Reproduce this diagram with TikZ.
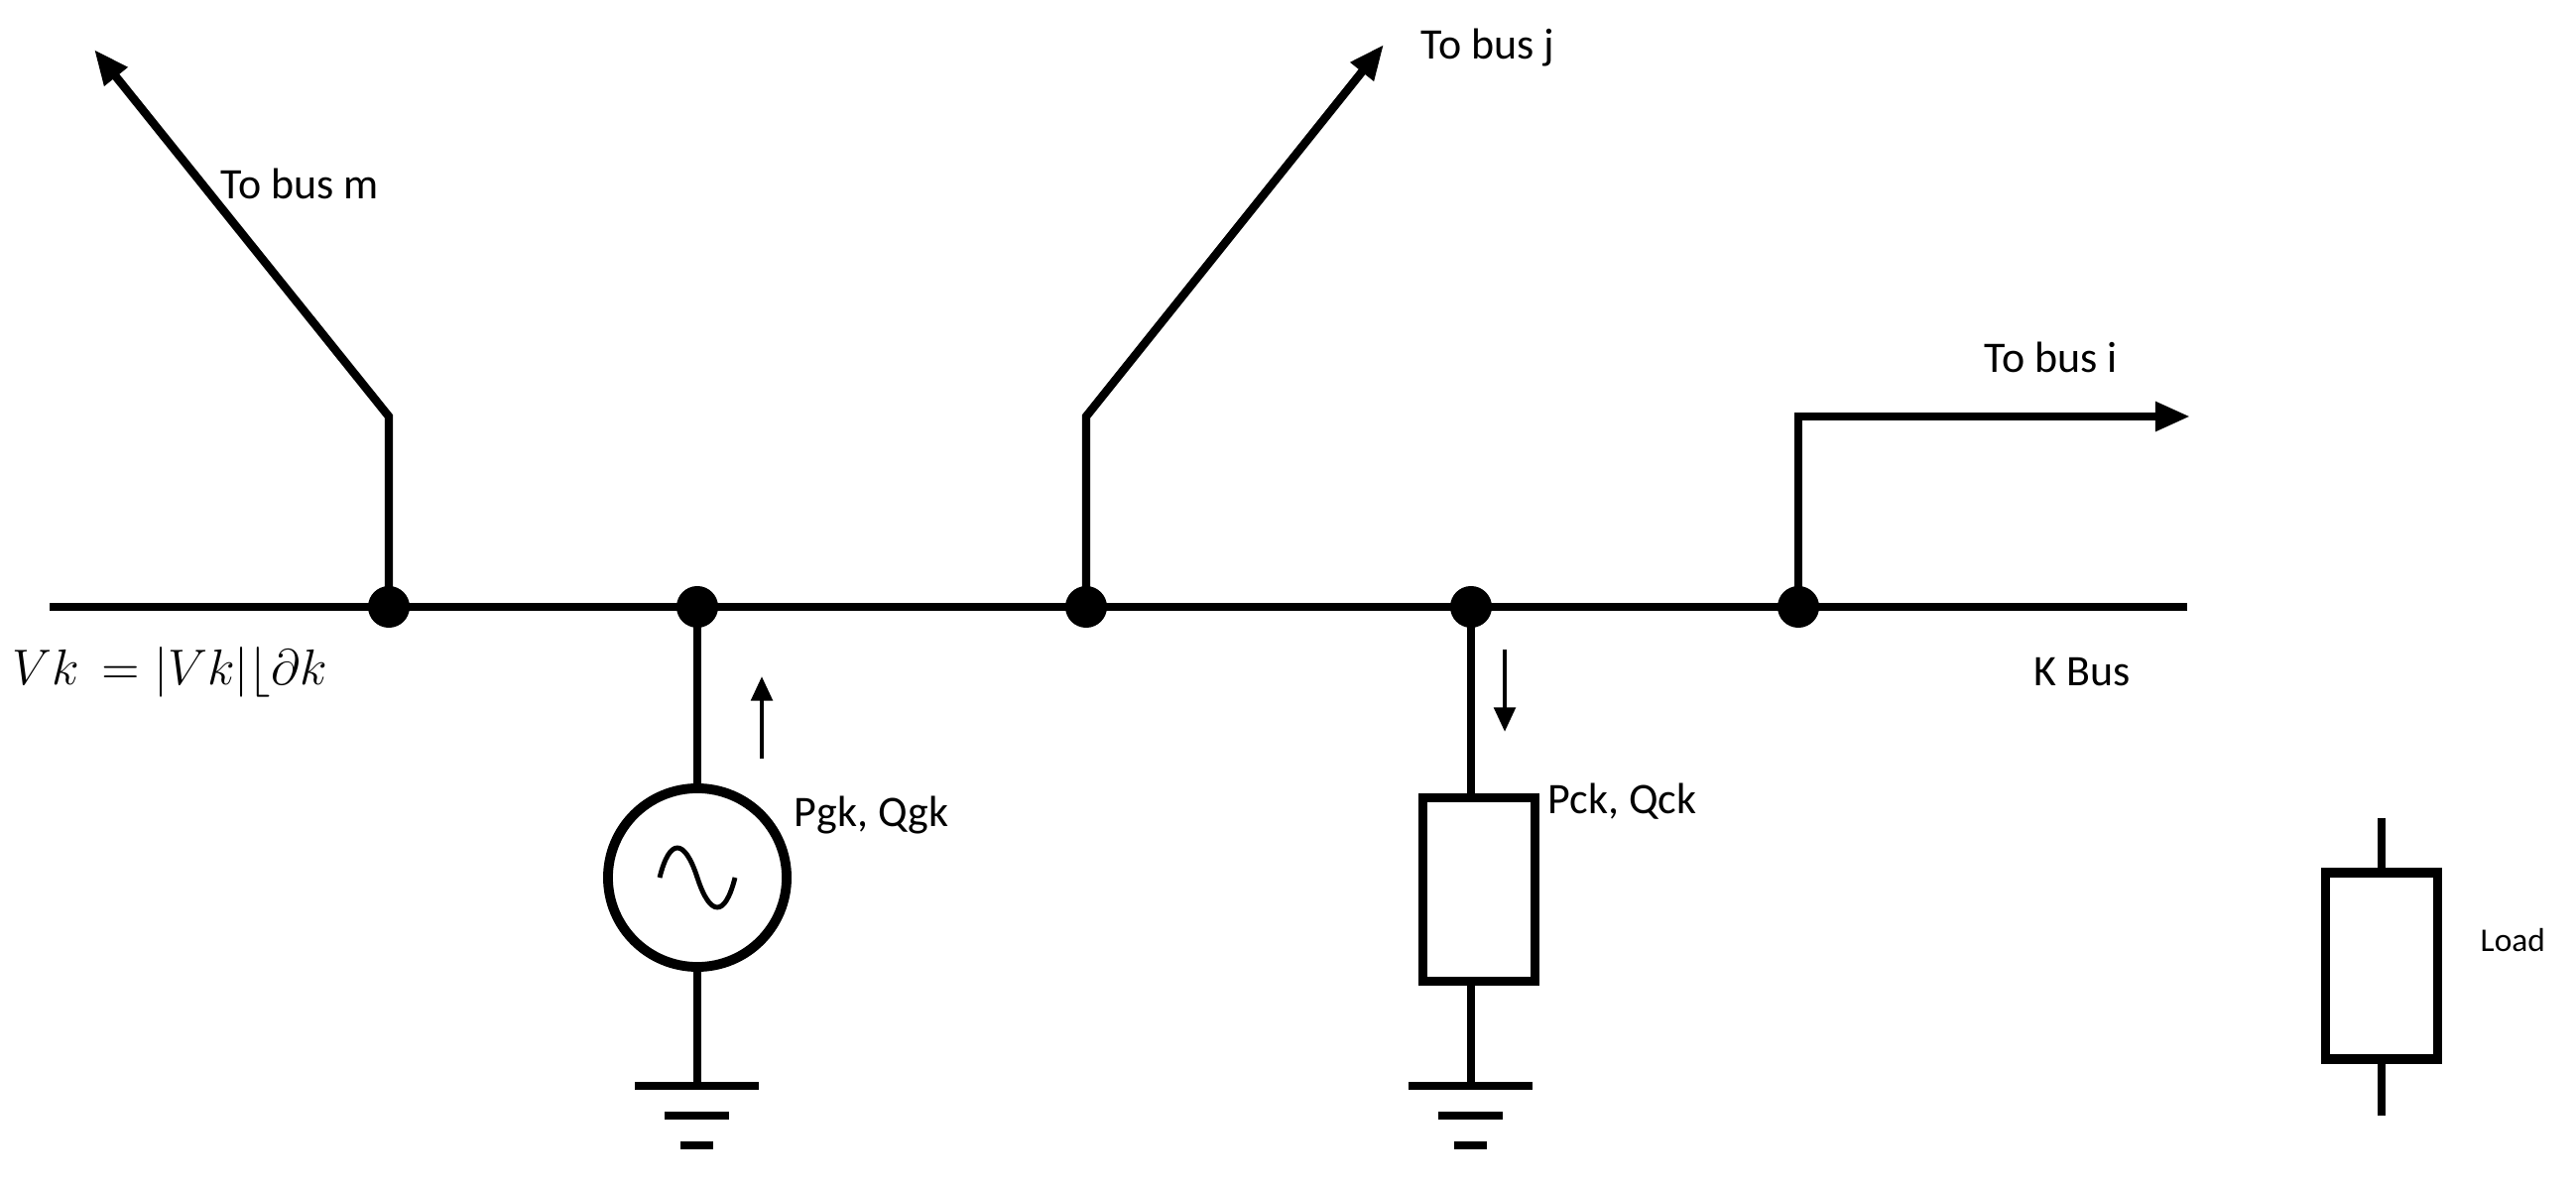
\documentclass[tikz,border=0pt]{standalone}
\usepackage{fontspec}
\setmainfont{Carlito}
\usetikzlibrary{arrows.meta}
\begin{document}
\begin{tikzpicture}[x=0.01cm,y=-0.01cm,
  wire/.style={line width=2.4pt},
  thin/.style={line width=1.4pt},
  arr/.style={wire,-{Triangle[length=10pt,width=8pt]}},
  dot/.style={circle,fill=black,inner sep=0pt,minimum size=0.42cm},
  lbl/.style={font=\fontsize{12.5}{15}\selectfont,inner sep=0pt}]
\useasboundingbox (0,0) rectangle (2597,1198);
% bus
\coordinate (bl) at (50,612);
\coordinate (br) at (2205,612);
\draw[wire] (bl) -- (br);
\node[dot] (d1) at (392,612) {};
\node[dot] (d2) at (703,612) {};
\node[dot] (d3) at (1095,612) {};
\node[dot] (d4) at (1483,612) {};
\node[dot] (d5) at (1813,612) {};
% branches
\coordinate (m1) at (392,420); \coordinate (m2) at (95,50);
\draw[arr] (d1.center) -- (m1) -- (m2);
\coordinate (j1) at (1095,420); \coordinate (j2) at (1395,45);
\draw[arr] (d3.center) -- (j1) -- (j2);
\coordinate (i1) at (1813,420); \coordinate (i2) at (2208,420);
\draw[arr] (d5.center) -- (i1) -- (i2);
\node[lbl,anchor=west] (tm) at (222,185) {To bus m};
\node[lbl,anchor=west] (tj) at (1432,48) {To bus j};
\node[lbl,anchor=west] (ti) at (2000,360) {To bus i};
\node[lbl,anchor=west] (kb) at (2050,678) {K Bus};
\node[lbl,anchor=west] (vk) at (12,678) {\fontsize{15}{18}\selectfont$Vk\,=|Vk|\lfloor\partial k$};
% generator
\node[circle,draw,line width=2.8pt,minimum size=1.8cm] (g) at (703,885) {};
\draw[thin] (665,885) .. controls (675,845) and (690,845) .. (703,885) .. controls (716,925) and (731,925) .. (741,885);
\draw[wire] (d2.center) -- (g.north);
\coordinate (gg) at (703,1095);
\draw[wire] (g.south) -- (gg);
\draw[wire] (640,1095) -- (765,1095);
\draw[wire] (670,1125) -- (735,1125);
\draw[wire] (686,1155) -- (719,1155);
\coordinate (ga) at (768,765); \coordinate (gb) at (768,682);
\draw[thin,-{Triangle[length=7pt,width=6pt]}] (ga) -- (gb);
\node[lbl,anchor=west] (pg) at (800,822) {Pgk, Qgk};
% load
\node[draw,line width=2.8pt,minimum width=1.13cm,minimum height=1.85cm,inner sep=0pt] (ld) at (1491,897) {};
\draw[wire] (d4.center) -- (1483,805);
\coordinate (lg) at (1483,1095);
\draw[wire] (1483,990) -- (lg);
\draw[wire] (1420,1095) -- (1545,1095);
\draw[wire] (1450,1125) -- (1515,1125);
\draw[wire] (1466,1155) -- (1499,1155);
\coordinate (la) at (1517,655); \coordinate (lb) at (1517,738);
\draw[thin,-{Triangle[length=7pt,width=6pt]}] (la) -- (lb);
\node[lbl,anchor=west] (pc) at (1560,808) {Pck, Qck};
% legend
\node[draw,line width=2.8pt,minimum width=1.13cm,minimum height=1.88cm,inner sep=0pt] (lg2) at (2401,974) {};
\coordinate (t1) at (2401,825); \coordinate (t2) at (2401,1125);
\draw[wire] (t1) -- (lg2.north);
\draw[wire] (lg2.south) -- (t2);
\node[lbl,anchor=west,font=\fontsize{9.5}{11}\selectfont] (ll) at (2500,948) {Load};
\end{tikzpicture}
\end{document}
